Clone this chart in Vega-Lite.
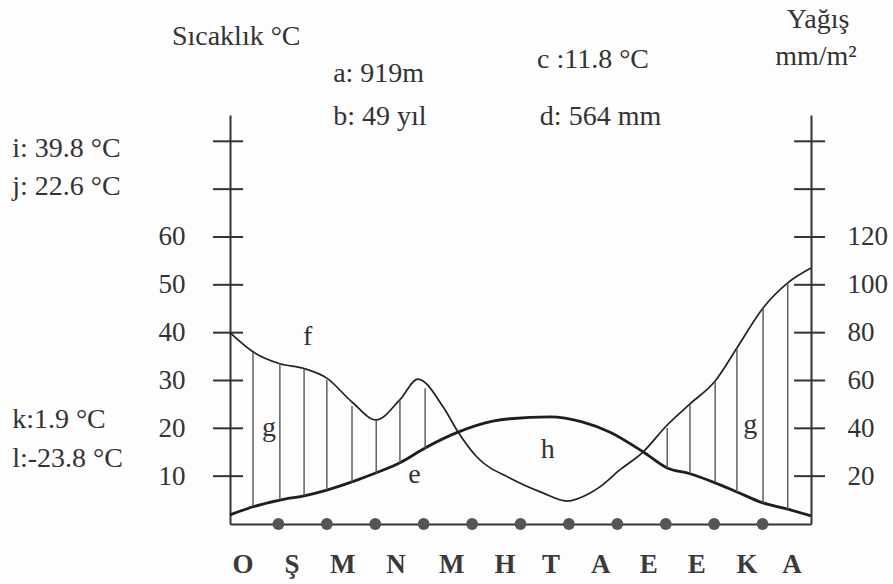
{
  "$schema": "https://vega.github.io/schema/vega-lite/v6.json",
  "width": 581,
  "height": 409,
  "autosize": "none",
  "padding": {"left": 230, "top": 115, "right": 82, "bottom": 60},
  "background": "#fdfdfd",
  "config": {
    "view": {"stroke": null},
    "axis": {"grid": false, "labelFont": "Liberation Serif", "labelFontSize": 27, "labelColor": "#333333", "domainColor": "#333333", "domainWidth": 2}
  },
  "datasets": {
    "temp": [
      {"m": 0, "t": 1.9}, {"m": 0.475, "t": 3.6}, {"m": 1.03, "t": 5.0}, {"m": 1.53, "t": 5.9},
      {"m": 2.0, "t": 7.1}, {"m": 2.52, "t": 8.8}, {"m": 3.02, "t": 10.7}, {"m": 3.51, "t": 12.8},
      {"m": 4.03, "t": 15.9}, {"m": 4.71, "t": 19.2}, {"m": 5.43, "t": 21.5}, {"m": 5.78, "t": 22.0},
      {"m": 6.61, "t": 22.4}, {"m": 7.29, "t": 21.3}, {"m": 7.85, "t": 19.2}, {"m": 8.53, "t": 15.1},
      {"m": 9.03, "t": 11.7}, {"m": 9.5, "t": 10.5}, {"m": 10.02, "t": 8.6}, {"m": 10.47, "t": 6.7},
      {"m": 11.01, "t": 4.4}, {"m": 11.52, "t": 3.1}, {"m": 12, "t": 1.7}
    ],
    "precip": [
      {"m": 0, "p": 80}, {"m": 0.475, "p": 72}, {"m": 1.03, "p": 67}, {"m": 1.53, "p": 65},
      {"m": 2.0, "p": 61}, {"m": 2.52, "p": 51}, {"m": 3.02, "p": 43.5}, {"m": 3.51, "p": 52},
      {"m": 3.88, "p": 60.6}, {"m": 4.4, "p": 49}, {"m": 4.71, "p": 38.5}, {"m": 5.1, "p": 28},
      {"m": 5.78, "p": 19.2}, {"m": 6.46, "p": 13}, {"m": 6.96, "p": 9.6}, {"m": 7.44, "p": 13},
      {"m": 7.64, "p": 15.5}, {"m": 8.05, "p": 22.6}, {"m": 8.53, "p": 30.1}, {"m": 9.03, "p": 41.4},
      {"m": 9.5, "p": 50.2}, {"m": 10.02, "p": 59.8}, {"m": 10.47, "p": 73.6}, {"m": 11.01, "p": 90.3},
      {"m": 11.52, "p": 100.8}, {"m": 12, "p": 107}
    ],
    "hatch": [
      {"m": 0.475, "hi": 71.9, "lo": 7.4}, {"m": 1.03, "hi": 67.3, "lo": 10.0},
      {"m": 1.53, "hi": 64.8, "lo": 11.8}, {"m": 2.0, "hi": 60.2, "lo": 14.2},
      {"m": 2.52, "hi": 49.3, "lo": 17.4}, {"m": 3.02, "hi": 43.5, "lo": 21.2},
      {"m": 3.51, "hi": 52.2, "lo": 25.5}, {"m": 4.03, "hi": 56.8, "lo": 31.6},
      {"m": 9.03, "hi": 40.1, "lo": 23.4}, {"m": 9.5, "hi": 50.2, "lo": 21.0},
      {"m": 10.02, "hi": 59.8, "lo": 17.2}, {"m": 10.47, "hi": 73.6, "lo": 13.4},
      {"m": 11.01, "hi": 90.7, "lo": 8.8}, {"m": 11.52, "hi": 100.8, "lo": 6.2}
    ],
    "leftTicks": [{"v": 10}, {"v": 20}, {"v": 30}, {"v": 40}, {"v": 50}, {"v": 60}, {"v": 70}, {"v": 80}],
    "rightTicks": [{"v": 20}, {"v": 40}, {"v": 60}, {"v": 80}, {"v": 100}, {"v": 120}, {"v": 140}, {"v": 160}],
    "dots": [{"m": 1}, {"m": 2}, {"m": 3}, {"m": 4}, {"m": 5}, {"m": 6}, {"m": 7}, {"m": 8}, {"m": 9}, {"m": 10}, {"m": 11}],
    "months": [
      {"m": 0.27, "label": "O"}, {"m": 1.28, "label": "Ş"}, {"m": 2.33, "label": "M"}, {"m": 3.43, "label": "N"},
      {"m": 4.58, "label": "M"}, {"m": 5.68, "label": "H"}, {"m": 6.63, "label": "T"}, {"m": 7.66, "label": "A"},
      {"m": 8.65, "label": "E"}, {"m": 9.64, "label": "E"}, {"m": 10.68, "label": "K"}, {"m": 11.61, "label": "A"}
    ],
    "notes": [
      {"m": -1.2, "t": 100.1, "label": "Sıcaklık °C"},
      {"m": 2.13, "t": 92.4, "label": "a: 919m"},
      {"m": 2.13, "t": 83.4, "label": "b: 49 yıl"},
      {"m": 6.34, "t": 95.3, "label": "c :11.8 °C"},
      {"m": 6.4, "t": 83.4, "label": "d: 564 mm"},
      {"m": 11.5, "t": 103.7, "label": "Yağış"},
      {"m": 11.26, "t": 95.9, "label": "mm/m²"},
      {"m": -4.5, "t": 76.7, "label": "i: 39.8 °C"},
      {"m": -4.5, "t": 68.8, "label": "j: 22.6 °C"},
      {"m": -4.5, "t": 20.1, "label": "k:1.9 °C"},
      {"m": -4.5, "t": 11.9, "label": "l:-23.8 °C"},
      {"m": 1.51, "t": 37.4, "label": "f"},
      {"m": 0.66, "t": 18.4, "label": "g"},
      {"m": 3.68, "t": 8.6, "label": "e"},
      {"m": 6.42, "t": 13.8, "label": "h"},
      {"m": 10.6, "t": 19.0, "label": "g"}
    ]
  },
  "layer": [
    {
      "layer": [
        {
          "data": {"name": "temp"},
          "mark": {"type": "line", "interpolate": "monotone", "color": "#1e1e1e", "strokeWidth": 2.8},
          "encoding": {
            "x": {"field": "m", "type": "quantitative", "title": null, "scale": {"domain": [0, 12], "nice": false, "zero": false},
                  "axis": {"orient": "bottom", "domain": true, "ticks": false, "labels": false, "title": null}},
            "y": {"field": "t", "type": "quantitative", "title": null, "scale": {"domain": [0, 85.5], "nice": false},
                  "axis": {"orient": "left", "domain": true, "ticks": false, "labelPadding": 45, "values": [10, 20, 30, 40, 50, 60], "title": null}}
          }
        },
        {
          "data": {"name": "leftTicks"},
          "mark": {"type": "rule", "color": "#333333", "strokeWidth": 2},
          "encoding": {
            "x": {"datum": -0.35, "type": "quantitative"},
            "x2": {"datum": 0.27},
            "y": {"field": "v", "type": "quantitative", "title": null}
          }
        },
        {
          "data": {"name": "dots"},
          "mark": {"type": "point", "filled": true, "color": "#555555", "size": 140, "opacity": 1},
          "encoding": {
            "x": {"field": "m", "type": "quantitative", "title": null},
            "y": {"datum": 0, "type": "quantitative"}
          }
        },
        {
          "data": {"name": "months"},
          "mark": {"type": "text", "font": "Liberation Serif", "fontSize": 27, "fontWeight": "bold", "color": "#3a3a3a", "align": "center", "baseline": "alphabetic"},
          "encoding": {
            "x": {"field": "m", "type": "quantitative", "title": null},
            "y": {"datum": -10.2, "type": "quantitative"},
            "text": {"field": "label"}
          }
        },
        {
          "data": {"name": "notes"},
          "mark": {"type": "text", "font": "Liberation Serif", "fontSize": 28, "color": "#333333", "align": "left", "baseline": "alphabetic"},
          "encoding": {
            "x": {"field": "m", "type": "quantitative", "title": null},
            "y": {"field": "t", "type": "quantitative", "title": null},
            "text": {"field": "label"}
          }
        }
      ]
    },
    {
      "layer": [
        {
          "data": {"name": "precip"},
          "mark": {"type": "line", "interpolate": "monotone", "color": "#222222", "strokeWidth": 1.7},
          "encoding": {
            "x": {"field": "m", "type": "quantitative", "title": null},
            "y": {"field": "p", "type": "quantitative", "title": null, "scale": {"domain": [0, 171], "nice": false},
                  "axis": {"orient": "right", "domain": true, "ticks": false, "labelPadding": 36, "values": [20, 40, 60, 80, 100, 120], "title": null}}
          }
        },
        {
          "data": {"name": "hatch"},
          "mark": {"type": "rule", "color": "#555555", "strokeWidth": 1.4},
          "encoding": {
            "x": {"field": "m", "type": "quantitative", "title": null},
            "y": {"field": "hi", "type": "quantitative", "title": null},
            "y2": {"field": "lo"}
          }
        },
        {
          "data": {"name": "rightTicks"},
          "mark": {"type": "rule", "color": "#333333", "strokeWidth": 2},
          "encoding": {
            "x": {"datum": 11.65, "type": "quantitative"},
            "x2": {"datum": 12.29},
            "y": {"field": "v", "type": "quantitative", "title": null}
          }
        }
      ]
    }
  ],
  "resolve": {"scale": {"y": "independent"}}
}
